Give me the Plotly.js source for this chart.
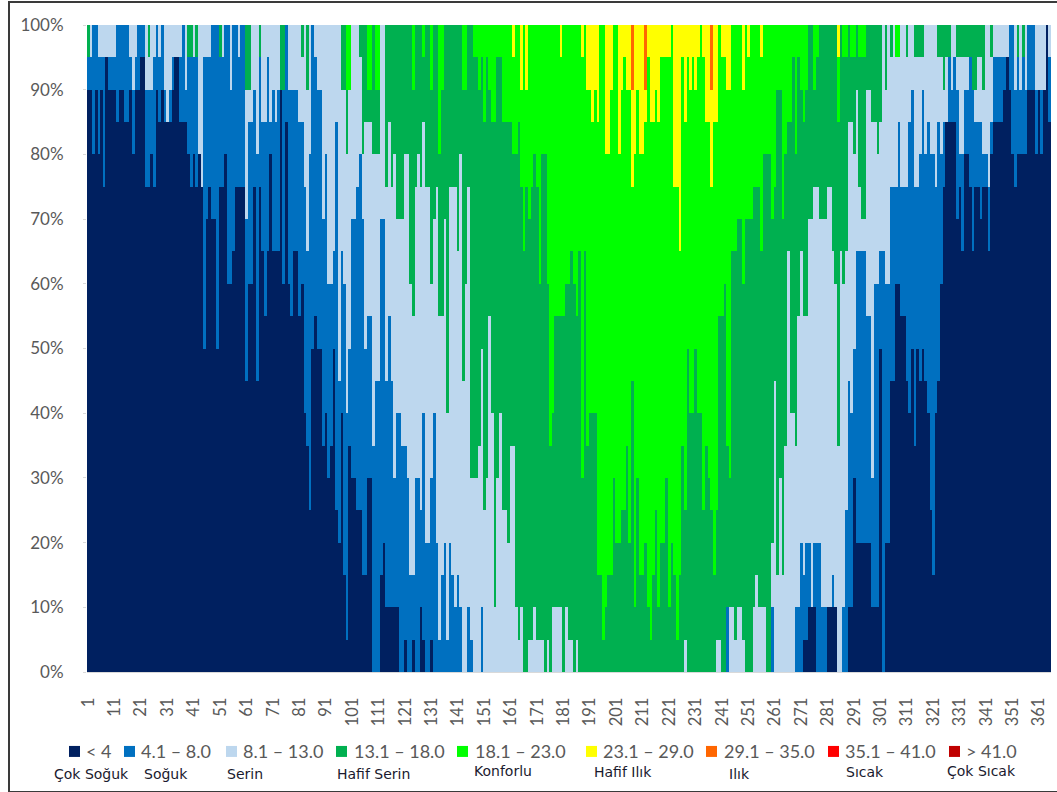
<!DOCTYPE html>
<html><head><meta charset="utf-8">
<script src="https://cdn.plot.ly/plotly-3.0.1.min.js"></script>
<style>
html,body{margin:0;padding:0;background:#fff;overflow:hidden}
#frame{position:absolute;left:8px;top:1px;width:1060px;height:788px;border:2px solid #3a3a3a;box-sizing:content-box}
#chart{position:absolute;left:0;top:0;width:1057px;height:792px}
</style></head><body>
<div id="chart"></div><div id="frame"></div>
<script>
// Each value: share of the 20 years up to and including that class, in 5 % steps, for days 1..365
const topCold = [
18,18,16,18,16,18,15,19,18,18, 18,17,18,18,17,17,18,16,18,18, 19,19,15,15,16,15,18,17,18,17, 17,17,18,19,19,17,17,17,16,15,
16,15,16,15,10,14,15,14,14,10, 15,15,16,12,12,13,15,15,15,15, 9,12,12,15,9,15,13,11,13,16, 13,13,13,18,12,17,12,11,13,13,
11,12,8,7,5,10,11,10,10,7, 8,6,7,10,5,4,8,3,1,7, 6,6,5,5,3,3,6,6,0,0, 0,3,4,2,2,2,2,2,0,0,
1,0,0,1,0,0,2,1,0,0, 1,0,0,0,0,0,0,0,0,0, 0,0,0,0,0,0,0,0,0,0, 0,0,0,0,0,0,0,0,0,0,
0,0,0,0,0,0,0,0,0,0, 0,0,0,0,0,0,0,0,0,0, 0,0,0,0,0,0,0,0,0,0, 0,0,0,0,0,0,0,0,0,0,
0,0,0,0,0,0,0,0,0,0, 0,0,0,0,0,0,0,0,0,0, 0,0,0,0,0,0,0,0,0,0, 0,0,0,0,0,0,0,0,0,0,
0,0,0,0,0,0,0,0,0,0, 0,0,0,0,0,0,0,0,0,0, 0,0,0,0,0,0,0,0,0,0, 0,1,1,2,2,2,0,0,0,0,
2,2,2,2,0,0,0,0,2,2, 6,4,4,4,4,4,4,2,2,2, 10,0,4,4,9,9,12,12,11,11, 9,8,10,7,10,9,10,9,8,5,
3,8,9,12,15,17,17,17,17,14, 15,13,16,16,15,13,15,15,14,15, 15,13,16,17,17,17,17,18,19,18, 16,15,16,16,16,16,18,18,18,16,
18,16,18,20,17];
const topCool = [
19,19,20,20,19,19,19,19,19,19, 19,20,20,20,20,20,19,18,19,20, 20,20,18,18,18,19,20,19,20,18, 17,18,19,19,19,19,20,18,19,19,
19,19,16,15,19,19,19,20,20,20, 19,19,20,20,18,20,20,19,20,20, 14,17,17,18,16,19,17,17,19,17, 18,17,18,18,18,20,18,18,18,18,
17,17,15,13,16,20,19,18,18,14, 16,12,12,13,17,9,13,12,8,10, 14,14,15,16,14,10,11,11,7,9, 9,14,14,9,11,9,6,8,8,7,
7,6,3,3,6,6,5,8,4,4, 6,8,4,1,3,4,1,4,3,2, 3,2,0,0,2,1,0,0,0,2, 0,0,0,0,0,0,0,0,0,0,
0,0,0,0,0,0,0,0,0,0, 0,0,0,0,0,0,0,0,0,0, 0,0,0,0,0,0,0,0,0,0, 0,0,0,0,0,0,0,0,0,0,
0,0,0,0,0,0,0,0,0,0, 0,0,0,0,0,0,0,0,0,0, 0,0,0,0,0,0,0,0,0,0, 0,0,0,0,0,0,0,0,0,0,
0,0,2,0,0,0,0,0,0,0, 0,0,0,0,0,0,0,0,0,2, 0,0,0,0,0,0,0,0,2,2, 4,3,4,4,2,4,4,4,2,2,
2,2,3,2,0,0,2,5,9,8, 10,13,13,13,13,11,11,6,12,12, 13,13,12,12,15,15,15,17,15,15, 15,17,18,15,15,16,18,16,17,16,
16,15,17,16,17,17,19,18,19,18, 16,16,18,18,19,18,17,17,17,16, 16,15,17,19,19,19,19,19,19,20, 20,18,19,18,19,18,20,20,20,18,
18,18,18,20,19];
const topCool2 = [
19,20,20,20,20,20,20,20,20,20, 20,20,20,20,20,20,20,20,20,20, 20,20,20,19,20,20,20,20,20,20, 20,20,20,20,20,20,20,20,19,19,
20,19,20,20,20,20,20,20,20,20, 19,20,20,20,20,20,20,20,20,20, 18,18,20,20,20,19,20,20,20,20, 20,20,20,18,18,20,20,20,20,20,
20,19,20,18,20,20,20,20,20,20, 20,20,20,20,20,20,18,18,16,18, 20,20,20,19,16,17,17,17,16,16, 16,20,20,15,17,15,16,14,14,14,
16,16,12,11,15,16,15,17,15,15, 12,14,15,11,11,14,8,15,15,15, 13,16,9,12,15,6,6,6,7,10, 5,6,11,8,2,6,8,5,5,4,
7,7,2,1,2,0,0,1,1,2, 1,1,1,0,1,0,2,2,2,2, 0,2,1,1,0,1,0,0,0,0, 0,0,0,0,0,0,0,0,0,0,
0,0,0,0,0,0,0,0,0,0, 0,0,0,0,0,0,0,0,0,0, 0,0,0,0,0,0,1,0,0,0, 0,0,0,0,0,0,0,0,1,1,
0,0,2,2,2,1,2,2,1,0, 0,0,2,3,2,2,2,0,0,4, 9,3,6,3,7,13,8,8,7,11, 13,11,11,14,14,15,15,14,14,14,
15,15,13,12,7,13,12,13,17,17, 16,18,15,14,14,18,18,17,17,16, 17,20,18,20,19,20,19,19,20,20, 19,20,20,19,19,19,19,20,20,20,
20,20,19,19,18,19,19,20,20,19, 19,19,19,19,18,18,18,19,19,18, 20,20,19,20,20,20,20,20,20,20, 20,20,19,20,19,20,20,20,20,20,
20,20,20,20,20];
const topMild = [
20,20,20,20,20,20,20,20,20,20, 20,20,20,20,20,20,20,20,20,20, 20,20,20,20,20,20,20,20,20,20, 20,20,20,20,20,20,20,20,20,20,
20,20,20,20,20,20,20,20,20,20, 20,20,20,20,20,20,20,20,20,20, 20,20,20,20,20,20,20,20,20,20, 20,20,20,20,20,20,20,20,20,20,
20,20,20,20,20,20,20,20,20,20, 20,20,20,20,20,20,20,20,18,18, 20,20,20,20,20,20,18,18,20,18, 18,20,20,20,20,20,20,20,20,20,
20,20,20,18,20,20,20,19,20,20, 18,20,20,16,18,20,20,20,20,20, 20,20,18,18,20,20,19,19,18,19, 17,19,18,17,17,19,19,17,17,17,
17,16,16,17,15,13,15,14,15,16, 15,12,16,16,12,7,8,11,11,11, 11,12,12,13,12,11,13,6,13,7, 8,8,8,3,3,1,2,3,3,6,
4,4,5,5,7,4,9,2,6,3, 3,4,2,1,3,5,2,4,4,6, 2,4,3,1,3,7,5,10,8,8, 10,8,8,5,7,6,5,3,5,11,
11,12,7,6,13,13,14,14,12,14, 14,14,15,15,15,13,16,16,16,14, 15,18,18,14,16,17,17,19,16,19, 18,17,18,20,20,18,19,20,20,20,
20,20,20,20,17,20,19,19,20,19, 19,20,19,19,19,20,20,20,20,20, 20,20,20,20,20,20,19,19,20,20, 20,20,20,20,20,20,20,20,20,20,
20,20,20,20,20,20,20,20,20,20, 20,20,20,20,20,20,20,20,20,20, 20,20,20,20,20,20,20,20,20,20, 20,20,20,20,20,20,20,20,20,20,
20,20,20,20,20];
const topComfort = [
20,20,20,20,20,20,20,20,20,20, 20,20,20,20,20,20,20,20,20,20, 20,20,20,20,20,20,20,20,20,20, 20,20,20,20,20,20,20,20,20,20,
20,20,20,20,20,20,20,20,20,20, 20,20,20,20,20,20,20,20,20,20, 20,20,20,20,20,20,20,20,20,20, 20,20,20,20,20,20,20,20,20,20,
20,20,20,20,20,20,20,20,20,20, 20,20,20,20,20,20,20,20,20,20, 20,20,20,20,20,20,20,20,20,20, 20,20,20,20,20,20,20,20,20,20,
20,20,20,20,20,20,20,20,20,20, 20,20,20,20,20,20,20,20,20,20, 20,20,20,20,20,20,20,20,20,20, 20,20,20,20,20,20,20,20,20,20,
20,19,20,20,18,20,18,20,20,20, 20,20,20,20,20,20,20,20,20,19, 20,20,20,20,20,20,20,19,20,18, 18,17,18,17,20,20,16,16,18,20,
20,16,18,19,18,18,15,16,18,16, 16,17,19,17,17,18,17,19,19,19, 19,20,15,15,13,19,17,19,18,19, 18,19,20,19,17,17,15,17,17,20,
19,19,18,18,20,20,20,20,18,20, 19,20,20,20,20,19,20,20,20,20, 20,20,20,20,20,20,20,20,20,20, 20,20,20,20,20,20,20,20,20,20,
20,20,20,20,19,20,20,20,20,20, 20,20,20,20,20,20,20,20,20,20, 20,20,20,20,20,20,20,20,20,20, 20,20,20,20,20,20,20,20,20,20,
20,20,20,20,20,20,20,20,20,20, 20,20,20,20,20,20,20,20,20,20, 20,20,20,20,20,20,20,20,20,20, 20,20,20,20,20,20,20,20,20,20,
20,20,20,20,20];
// Days on which the 29.1–35.0 class is present, and its share of years (in 5 % steps)
const warmDays = [207, 212, 237];
const warmCounts = [2, 2, 2];

const legendLabels = ['< 4','4.1 – 8.0','8.1 – 13.0','13.1 – 18.0','18.1 – 23.0','23.1 – 29.0','29.1 – 35.0','35.1 – 41.0','> 41.0'];
const classNames = ['Çok Soğuk','Soğuk','Serin','Hafif Serin','Konforlu','Hafif Ilık','Ilık','Sıcak','Çok Sıcak'];
const colors = ['#002060','#0070C0','#BDD7EE','#00B050','#00FF00','#FFFF00','#FF6600','#FF0000','#C00000'];
const tickDays = [1,11,21,31,41,51,61,71,81,91,101,111,121,131,141,151,161,171,181,191,201,211,221,231,241,251,261,271,281,291,301,311,321,331,341,351,361];

for (const a of [topCold,topCool,topCool2,topMild,topComfort]) {
  if (a.length !== 365) throw new Error('array length ' + a.length);
}
const days = topCold.map((_, i) => i + 1);
const W = 1057, H = 792;
const warm = days.map(d => { const k = warmDays.indexOf(d); return k < 0 ? 0 : warmCounts[k]; });
const stacks = [topCold, topCool, topCool2, topMild, topComfort];
const series = stacks.map(() => []);
days.forEach((d, i) => {
  let below = 0;
  stacks.forEach((top, s) => {
    const t = Math.max(top[i], below);
    series[s].push(t - below);
    below = t;
  });
  const yellow = 20 - below - warm[i];
  (series[5] = series[5] || []).push(Math.max(yellow, 0));
  (series[6] = series[6] || []).push(warm[i]);
  (series[7] = series[7] || []).push(0);
  (series[8] = series[8] || []).push(0);
});
const traces = series.map((v, s) => ({
  type: 'bar', x: days, y: v.map(n => n * 5), name: legendLabels[s],
  marker: {color: colors[s], line: {width: 0}}, showlegend: false
}));

// legend layout, in page pixels
const swatchX = [69,124,226,336,457,586,706,828,949];
const labelX = [84,139,241,352,473,601,722,843,964];
const subX = [91,166,245,373,503,623,739,865,981];
const subY = [775,775,775,775,772,773,775,773,772];
const annotations = [], shapes = [];
legendLabels.forEach((t, i) => {
  annotations.push({xref:'paper',yref:'paper',xanchor:'left',yanchor:'middle',showarrow:false,
    x:(labelX[i]-87)/(W-87-6), y:(672.5-752)/(672.5-25), text:t,
    font:{family:'Lato, Carlito, sans-serif',size:18,color:'#595959'}});
  annotations.push({xref:'paper',yref:'paper',xanchor:'center',yanchor:'middle',showarrow:false,
    x:(subX[i]-87)/(W-87-6), y:(672.5-subY[i])/(672.5-25), text:classNames[i],
    font:{family:'"DejaVu Sans", sans-serif',size:14,color:'#1a1a2e'}});
  shapes.push({type:'rect',xref:'paper',yref:'paper',line:{width:0},fillcolor:colors[i],
    x0:(swatchX[i]-87)/(W-87-6), x1:(swatchX[i]+11-87)/(W-87-6),
    y0:(672.5-757.5)/(672.5-25), y1:(672.5-746.5)/(672.5-25)});
});
Plotly.newPlot('chart', traces, {
  width: W, height: H, barmode: 'stack', bargap: 0,
  margin: {l:87, r:6, t:25, b:119.5}, paper_bgcolor:'#fff', plot_bgcolor:'#fff',
  xaxis: {range:[0.5,365.5], tickmode:'array', tickvals:tickDays, ticktext:tickDays.map(String), tickangle:-90,
    ticks:'', ticklabelstandoff:18, showgrid:false, zeroline:false, showline:true, linecolor:'#d9d9d9',
    tickfont:{family:'Lato, Carlito, sans-serif',size:16.5,color:'#595959'}},
  yaxis: {range:[0,100], dtick:10, ticksuffix:'%', ticks:'outside', ticklen:3, tickcolor:'#d9d9d9', ticklabelstandoff:16,
    showgrid:true, gridcolor:'#d9d9d9', zeroline:false, showline:false,
    tickfont:{family:'Lato, Carlito, sans-serif',size:17,color:'#595959'}},
  annotations, shapes, showlegend:false
}, {staticPlot:true, displayModeBar:false});
</script></body></html>
